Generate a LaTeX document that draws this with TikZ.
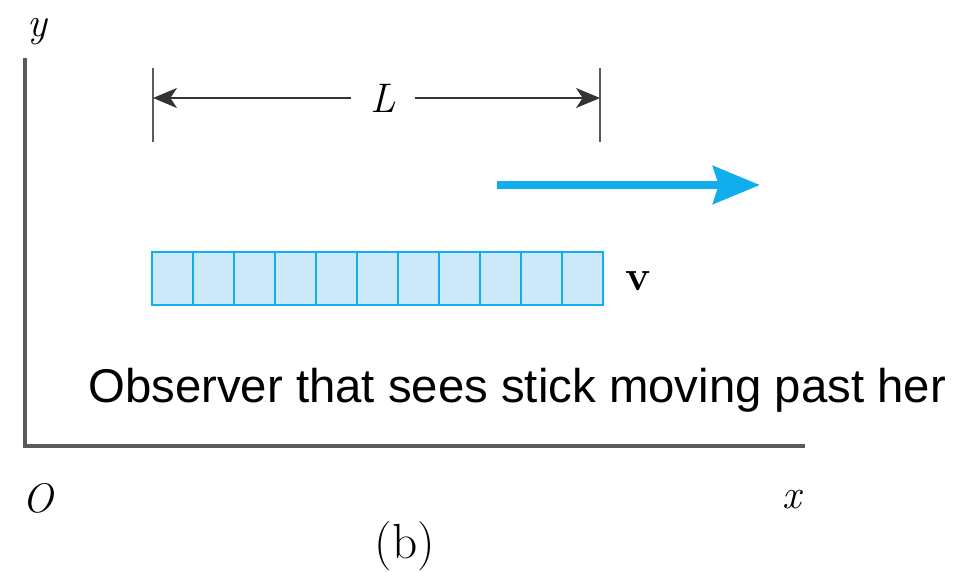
\documentclass[tikz,border=0pt]{standalone}
\usepackage{fontspec}
\newfontfamily\notefont{Liberation Sans}
\usetikzlibrary{arrows.meta}
\definecolor{stickblue}{HTML}{10AEEC}
\definecolor{stickfill}{HTML}{CDE8F8}
\definecolor{axisgray}{HTML}{5A5A5A}
\tikzset{
    axis/.style={draw=axisgray, line width=2.4pt},
    tick/.style={draw=axisgray, line width=1.8pt},
    dimarrow/.style={draw=black!80, line width=1.4pt, -{Stealth[length=18pt, width=15pt, inset=5pt]}},
    cell/.style={draw=stickblue, fill=stickfill, line width=1.6pt},
    speed/.style={draw=stickblue, line width=6.5pt, -{Stealth[length=35pt, width=28pt, inset=4pt]}},
    lbl/.style={font=\fontsize{31}{36}\selectfont, inner sep=0pt}
}

\begin{document}
\begin{tikzpicture}[x=0.75pt, y=-0.75pt]
    \useasboundingbox (0,0) rectangle (959,571);

    % Axes
    \coordinate (ytop) at (25,58);
    \coordinate (xend) at (805,446);
    \draw[axis] (ytop) |- (xend);
    \node[lbl] (ylab) at (37,32) {\itshape y};
    \node[lbl] (olab) at (38,498) {\itshape O};
    \node[lbl] (xlab) at (792,500) {\itshape x};
    \node[lbl, font=\fontsize{37}{42}\selectfont] (caption) at (405,546) {(b)};

    % Length L of the stick
    \coordinate (ltop) at (153,68);
    \coordinate (lbot) at (153,142);
    \coordinate (rtop) at (600,68);
    \coordinate (rbot) at (600,142);
    \draw[tick] (ltop) -- (lbot);
    \draw[tick] (rtop) -- (rbot);
    \node[lbl, inner xsep=14pt] (len) at (383,98) {\itshape L};
    \draw[dimarrow] (len.west) -- (153,98);
    \draw[dimarrow] (len.east) -- (600,98);

    % Velocity arrow
    \coordinate (vstart) at (497,185);
    \coordinate (vend) at (760,185);
    \draw[speed] (vstart) -- (vend);

    % The stick, eleven cells
    \foreach \i in {0,...,10}
        \draw[cell] (152+41*\i,252) rectangle ++(41,53);
    \node[lbl, font=\fontsize{32}{36}\selectfont] (vlab) at (638,281) {\bfseries v};

    % Observer note
    \node[anchor=base west, inner sep=0pt, font=\notefont\fontsize{35.5}{40}\selectfont]
        (note) at (88,402) {Observer that sees stick moving past her};

\end{tikzpicture}
\end{document}
